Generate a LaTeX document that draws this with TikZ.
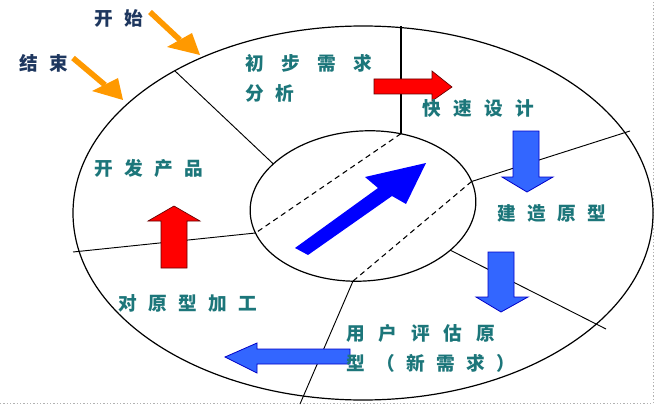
\documentclass[tikz,border=0pt]{standalone}
\usepackage{fontspec}
\newfontfamily\cjk{Noto Sans CJK SC}
\definecolor{tealtxt}{RGB}{28,118,122}
\definecolor{navytxt}{RGB}{30,55,95}
\definecolor{orng}{RGB}{255,153,0}
\definecolor{blfill}{RGB}{51,102,255}
\definecolor{blline}{RGB}{0,0,200}
\definecolor{rdline}{RGB}{100,0,0}
\newcommand\cgapA{\hspace{8.5pt}}
\newcommand\cgapB{\hspace{9.3pt}}
\newcommand\cgapC{\hspace{13pt}}
\newcommand\cgapD{\hspace{10.4pt}}
\begin{document}
\begin{tikzpicture}[x=0.75pt,y=-0.75pt,
  lbl/.style={inner sep=0pt,anchor=west,text=tealtxt,font=\cjk\bfseries\fontsize{14pt}{16pt}\selectfont},
  hdr/.style={inner sep=0pt,anchor=west,text=navytxt,font=\cjk\bfseries\fontsize{14pt}{16pt}\selectfont},
  ring/.style={draw=black,line width=0.9pt},
  radial/.style={draw=black,line width=0.7pt},
  dashln/.style={draw=black,line width=0.8pt,dash pattern=on 4pt off 3pt},
  redarrow/.style={fill=red,draw=rdline,line width=0.5pt},
  bluearrow/.style={fill=blfill,draw=blline,line width=0.6pt},
  orangeshaft/.style={draw=orng,line width=4.2pt},
  orangehead/.style={fill=orng,draw=none}]
\useasboundingbox (0,0) rectangle (655,406);
\fill[white] (0,0) rectangle (655,406);
% border artifacts
\draw[gray!60,line width=0.5pt,dash pattern=on 1pt off 1.5pt] (0,403.5) -- (653,403.5) -- (653,0);
% ellipses
\coordinate (oc) at (363,213);
\coordinate (ic) at (363,206);
\draw[ring] (oc) ellipse [x radius=217.5pt, y radius=140.25pt];
\draw[ring,rotate around={4:(ic)}] (ic) ellipse [x radius=84.75pt, y radius=56.25pt];
% radial lines
\coordinate (o1) at (175,71);   \coordinate (i1) at (273.3,163.9);
\coordinate (o2) at (401,26);   \coordinate (i2) at (401,133.6);
\coordinate (o3) at (630,131);  \coordinate (i3) at (471.6,181.5);
\coordinate (o4) at (606,329);  \coordinate (i4) at (450.3,250.2);
\coordinate (o5) at (300,404);  \coordinate (i5) at (353,281.1);
\coordinate (o6) at (73,252);   \coordinate (i6) at (255.5,233);
\draw[radial] (o1) -- (i1);
\draw[radial,line width=1pt] (o2) -- (i2);
\draw[radial] (i3) -- (o3);
\draw[radial] (i4) -- (o4);
\draw[radial] (i5) -- (o5);
\draw[radial] (i6) -- (o6);
% dashed lines
\draw[dashln] (i2) -- (i6);
\draw[dashln] (i3) -- (i5);
% central arrow
\fill[blue] (295,248) -- (378,188) -- (365,177) -- (426,163) -- (406,204) -- (392,196) -- (308,255) -- cycle;
% red right arrow
\draw[redarrow] (374,79) -- (432,79) -- (432,71) -- (452,87) -- (432,101) -- (432,94) -- (374,94) -- cycle;
% red up arrow
\draw[redarrow] (161,268) -- (161,221) -- (148,221) -- (174,206) -- (200,221) -- (187,221) -- (187,268) -- cycle;
% blue down arrows
\draw[bluearrow] (513,131) -- (539,131) -- (539,177) -- (553,177) -- (527,192) -- (502,177) -- (513,177) -- cycle;
\draw[bluearrow] (488,252) -- (514,252) -- (514,297) -- (528,297) -- (501,312) -- (476,297) -- (488,297) -- cycle;
% blue left arrow
\draw[bluearrow] (350,349) -- (257,349) -- (257,343) -- (225,357) -- (257,373) -- (257,364) -- (350,364) -- cycle;
% orange arrows
\coordinate (s1) at (150,12);  \coordinate (b1) at (180,40);
\coordinate (s2) at (73,58);   \coordinate (b2) at (105,85);
\draw[orangeshaft] (s1) -- (b1);
\fill[orangehead] (167,47) -- (192,33) -- (200,55) -- cycle;
\draw[orangeshaft] (s2) -- (b2);
\fill[orangehead] (92,91) -- (118,78) -- (123,100) -- cycle;
% labels
\node[hdr] (kaishi) at (94,18) {开\cgapA{}始};
\node[hdr] (jieshu) at (19,63) {结\cgapA{}束};
\node[lbl] (chubu) at (245,63) {初\cgapC{}步\cgapC{}需\cgapC{}求};
\node[lbl] (fenxi) at (245,93) {分\cgapA{}析};
\node[lbl] (kuaisu) at (422,108) {快\cgapB{}速\cgapB{}设\cgapB{}计};
\node[lbl] (kaifa) at (94,168) {开\cgapA{}发\cgapA{}产\cgapA{}品};
\node[lbl] (jianzao) at (497,213) {建\cgapA{}造\cgapA{}原\cgapA{}型};
\node[lbl] (duiyuan) at (118,303) {对\cgapA{}原\cgapA{}型\cgapA{}加\cgapA{}工};
\node[lbl] (yonghu) at (346,333) {用\cgapD{}户\cgapD{}评\cgapD{}估\cgapD{}原};
\node[lbl] (xing) at (346,363) {型\cgapA{}（\cgapA{}新\cgapA{}需\cgapA{}求\cgapA{}）};
\end{tikzpicture}
\end{document}
